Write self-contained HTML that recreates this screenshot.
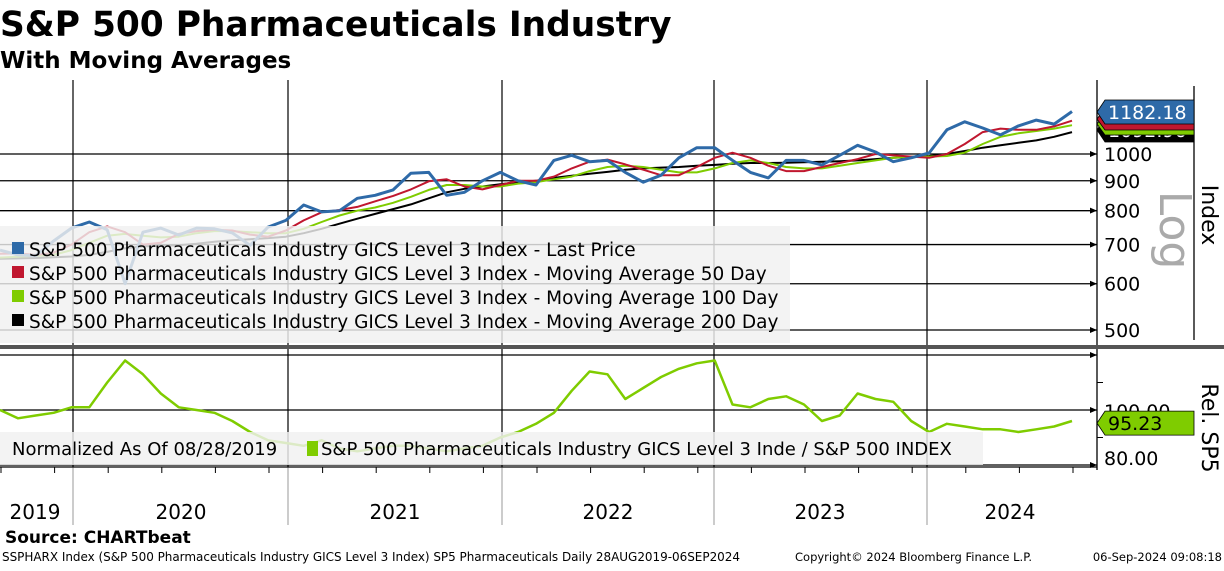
<!DOCTYPE html>
<html><head><meta charset="utf-8"><style>
body{margin:0;width:1224px;height:566px;background:#fff;overflow:hidden;font-family:"Liberation Sans",sans-serif;}
svg text{font-family:"DejaVu Sans","Liberation Sans",sans-serif;}
</style></head><body>
<svg id="c" width="1224" height="566" viewBox="0 0 1224 566" xmlns="http://www.w3.org/2000/svg">
<text x="0" y="36" font-size="34.4" font-weight="bold" fill="#000">S&amp;P 500 Pharmaceuticals Industry</text>
<text x="0" y="68" font-size="23" font-weight="bold" fill="#000">With Moving Averages</text>
<g id="grid"></g>
<g id="series"></g>
<g id="overlay"></g>
</svg>
<script>
const years=['2019','2020','2021','2022','2023','2024'];
const priceTicks=[500,600,700,800,900,1000];
const relTicks=[80,100];
const price=[685,672,670,710,747,765,742,600,735,747,727,747,745,733,698,750,770,818,796,800,840,850,868,927,930,850,860,900,930,900,885,975,995,970,975,930,895,920,985,1025,1025,975,930,910,975,975,958,995,1035,1008,970,985,1004,1100,1135,1108,1078,1117,1143,1125,1182];
const ma50=[675,676,672,678,700,735,752,735,700,705,730,738,742,740,728,722,740,770,795,802,812,830,848,870,898,905,880,870,885,900,900,915,945,970,978,960,940,920,920,950,985,1005,985,955,935,935,950,965,980,1000,995,990,985,1000,1040,1090,1105,1100,1100,1115,1140];
const ma100=[665,667,670,672,685,705,725,730,725,720,722,732,738,738,735,732,732,745,765,785,800,810,825,845,868,885,885,880,880,890,895,905,915,935,950,955,950,940,930,930,945,965,975,965,950,945,945,955,965,975,985,990,990,992,1005,1040,1070,1085,1095,1105,1120];
const ma200=[662,663,664,666,668,672,680,690,695,697,698,702,708,712,715,718,722,732,745,760,775,790,805,820,840,860,872,880,888,895,900,910,918,925,932,940,945,948,950,955,958,962,965,965,966,968,970,972,975,980,985,988,992,1000,1012,1025,1035,1045,1055,1070,1090];
const rel=[100,97,98,99,101,101,110,118,113,106,101,100,99,96,92,89,88,87,89,86,85,86,87,87,86,85,86,87,90,92,95,99,107,114,113,104,108,112,115,117,118,102,101,104,105,102,96,98,106,104,103,96,92,95,94,93,93,92,93,94,96];
const lastPrice='1182.18', lastRel='95.23';

const NS='http://www.w3.org/2000/svg';
function el(tag,attrs,parent,text){const e=document.createElementNS(NS,tag);for(const k in attrs)e.setAttribute(k,attrs[k]);if(text!==undefined)e.textContent=text;parent.appendChild(e);return e;}
const X=i=>i*(1072/(price.length-1));
const Y=v=>154-Math.log10(v/1000)*584.7;
const YR=v=>410-(v-100)*2.75;
const grid=document.getElementById('grid'),ser=document.getElementById('series'),ov=document.getElementById('overlay');

priceTicks.forEach(t=>{
 const l=el('line',{x1:0,x2:1097,y1:Y(t),y2:Y(t),stroke:'#000','stroke-width':1.3},grid);
 
 
 el('path',{d:`M1090 ${Y(t)-3}L1097 ${Y(t)}L1090 ${Y(t)+3}Z`,fill:'#000'},grid);
 const tx=el('text',{x:1104,y:Y(t)+7,'font-size':19,fill:'#000'},grid,String(t));
 
 
});
[80,100,120].forEach(t=>{
 const l=el('line',{x1:0,x2:1097,y1:YR(t),y2:YR(t),stroke:'#000','stroke-width':1.3},grid);
 
 
 el('path',{d:`M1090 ${YR(t)-3}L1097 ${YR(t)}L1090 ${YR(t)+3}Z`,fill:'#000'},grid);
});
[90,110].forEach(t=>el('line',{x1:1097,x2:1103,y1:YR(t),y2:YR(t),stroke:'#000'},grid));
relTicks.forEach(t=>{
 const tx=el('text',{x:1104,y:YR(t)+(t===80?0:8),'font-size':19,fill:'#000'},grid,t.toFixed(2));
 
 
});
const yearX=[73,288,502,714,927];
yearX.forEach(x=>{
 el('line',{x1:x,x2:x,y1:80,y2:467,stroke:'#000','stroke-width':1.2},grid);
 el('line',{x1:x,x2:x,y1:467,y2:525,stroke:'#999','stroke-width':1},grid);
});
const yearLbl=[35,181,395,608,820,1010];
years.forEach((y,i)=>{
 const t=el('text',{x:yearLbl[i],y:519,'font-size':20,'text-anchor':'middle',fill:'#000'},grid,y);
 
 
});
for(let m=0;m<=61;m+=3){el('line',{x1:X(m)+1,x2:X(m)+1,y1:467,y2:473,stroke:'#000'},grid);}
el('line',{x1:1097,x2:1097,y1:80,y2:470,stroke:'#000','stroke-width':1.3},grid);
el('line',{x1:1194,x2:1194,y1:86,y2:340,stroke:'#000','stroke-width':1.3},grid);
el('line',{x1:0,x2:1097,y1:467,y2:467,stroke:'#000','stroke-width':1.3},grid);
const sep=el('rect',{x:0,y:345,width:1224,height:4,fill:'#555'},grid);



function line(arr,fy,color,w,name){
 const d=arr.map((v,i)=>(i?'L':'M')+X(i).toFixed(1)+' '+fy(v).toFixed(1)).join('');
 const p=el('path',{d:d,fill:'none',stroke:color,'stroke-width':w,'stroke-linejoin':'round'},ser);
 
 
}
line(ma200,Y,'#000',2,'ma200-line');
line(ma100,Y,'#7fcc00',2,'ma100-line');
line(ma50,Y,'#c0172f',2,'ma50-line');
line(price,Y,'#2e6aa8',3,'price-line');
line(rel,YR,'#7fcc00',2.5,'relative-line');

const lg=el('rect',{x:0,y:226,width:790,height:117,fill:'#f0f0f0','fill-opacity':0.82},ov);


const lgItems=[['#2e6aa8','Last Price'],['#c0172f','Moving Average 50 Day'],['#7fcc00','Moving Average 100 Day'],['#000','Moving Average 200 Day']];
lgItems.forEach((it,i)=>{
 const y=250+i*24;
 el('rect',{x:12,y:y-8,width:12,height:12,fill:it[0]},ov);
 const t=el('text',{x:29,y:y+6,'font-size':18.5,fill:'#000'},ov,'S&P 500 Pharmaceuticals Industry GICS Level 3 Index - '+it[1]);
 
 
});
const lg2=el('rect',{x:0,y:432,width:983,height:33,fill:'#f0f0f0','fill-opacity':0.82},ov);


const t2=el('text',{x:12,y:455,'font-size':18,fill:'#000'},ov,'Normalized As Of 08/28/2019');


el('rect',{x:307,y:441,width:11,height:15,fill:'#7fcc00'},ov);
const t3=el('text',{x:321,y:455,'font-size':18,fill:'#000'},ov,'S&P 500 Pharmaceuticals Industry GICS Level 3 Inde / S&P 500 INDEX');



function tag(y,h,color,txt,tc,name){
 const g=el('g',{},ov);
 
 
 el('path',{d:`M1097 ${y+h/2}L1105 ${y}L1194 ${y}L1194 ${y+h}L1105 ${y+h}Z`,fill:color,stroke:'#000','stroke-width':0.8},g);
 if(txt)el('text',{x:1108,y:y+h-5,'font-size':19,fill:tc},g,txt);
}
tag(118,24,'#000','1092.96','#fff','ma200-value-tag');
tag(113,22,'#7fcc00','','#000','ma100-value-tag');
tag(108,22,'#c0172f','','#fff','ma50-value-tag');
tag(100,24,'#2e6aa8',lastPrice,'#fff','price-value-tag');
tag(YR(95.23)-12,24,'#7fcc00',lastRel,'#000','rel-value-tag');

let t=el('text',{transform:'translate(1160,230) rotate(90)','font-size':44,fill:'#aaa','text-anchor':'middle'},ov,'Log');

t=el('text',{transform:'translate(1202,215) rotate(90)','font-size':22,fill:'#000','text-anchor':'middle'},ov,'Index');

t=el('text',{transform:'translate(1202,428) rotate(90)','font-size':22,fill:'#000','text-anchor':'middle'},ov,'Rel. SP5');

t=el('text',{x:5,y:543,'font-size':17,'font-weight':'bold',fill:'#000'},ov,'Source: CHARTbeat');

t=el('text',{x:2,y:561,'font-size':12,fill:'#000',textLength:738},ov,'SSPHARX Index (S&P 500 Pharmaceuticals Industry GICS Level 3 Index) SP5 Pharmaceuticals  Daily 28AUG2019-06SEP2024');

t=el('text',{x:795,y:561,'font-size':11.5,fill:'#000'},ov,'Copyright© 2024 Bloomberg Finance L.P.');

t=el('text',{x:1222,y:561,'font-size':11.5,fill:'#000','text-anchor':'end'},ov,'06-Sep-2024 09:08:18');

</script>
</body></html>
